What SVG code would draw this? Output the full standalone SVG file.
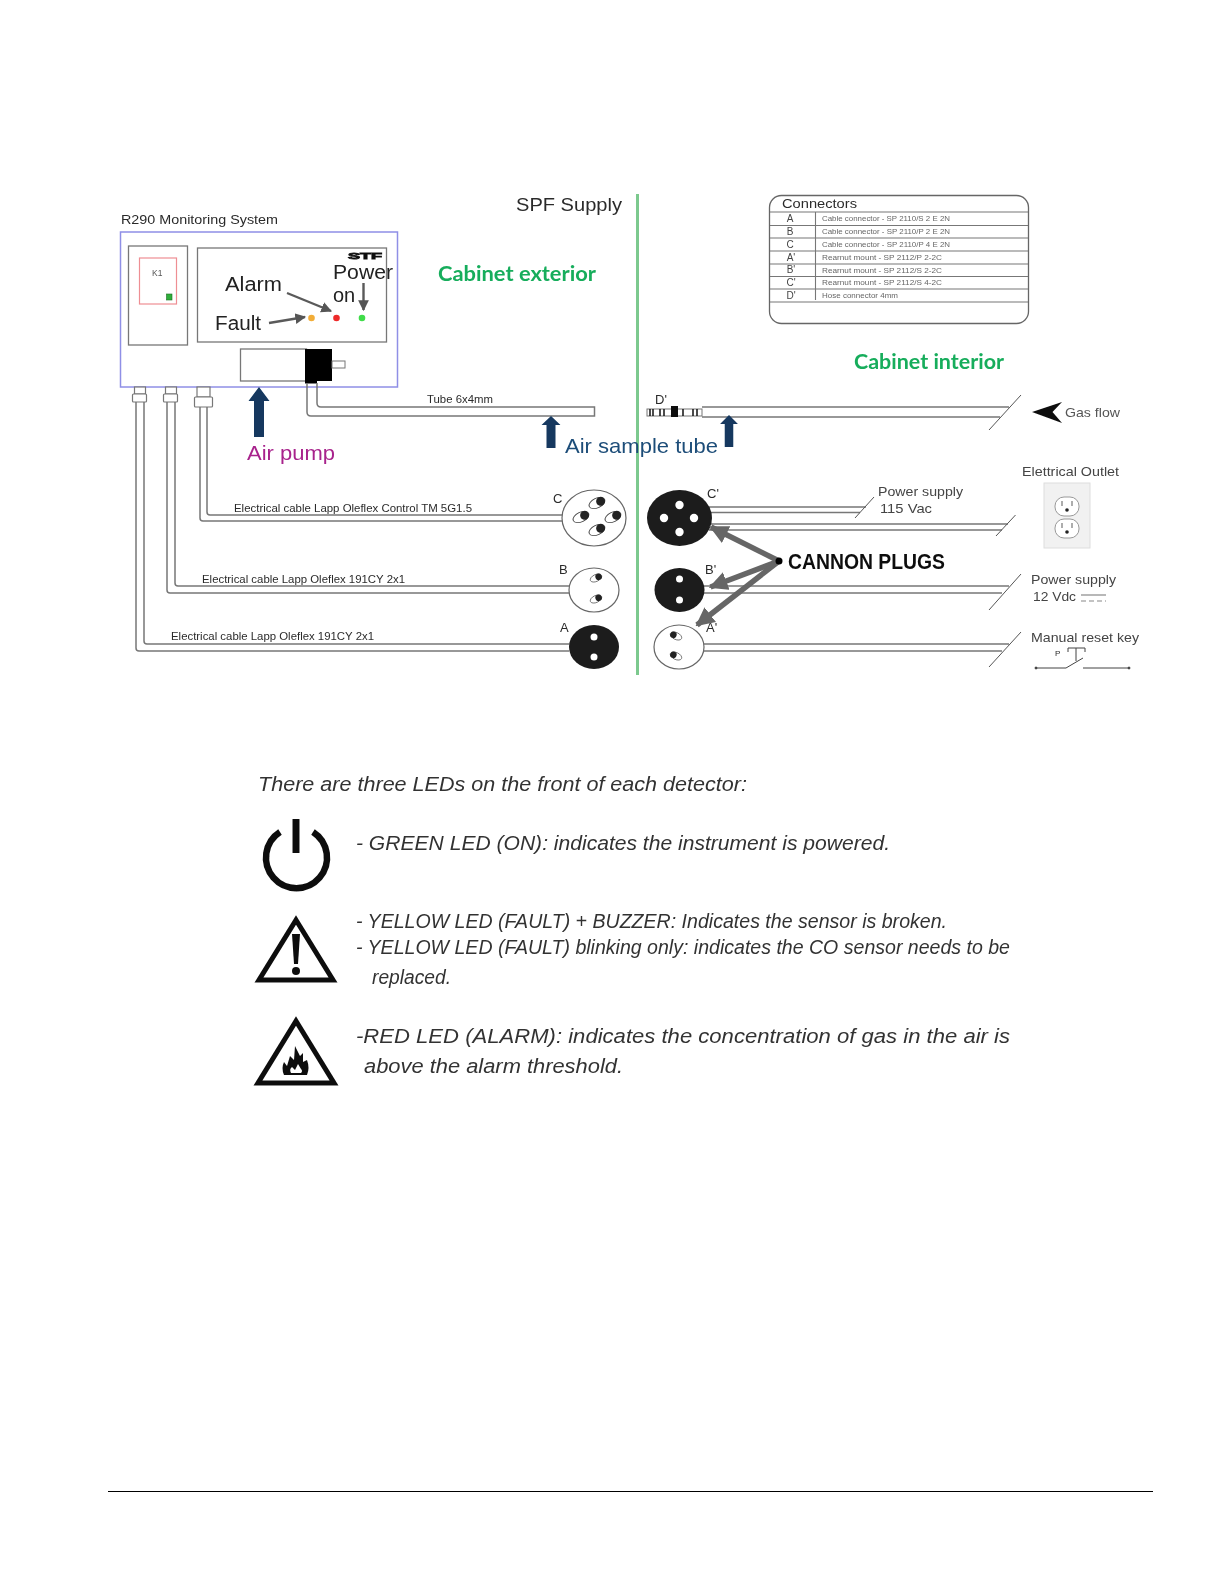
<svg xmlns="http://www.w3.org/2000/svg" width="1224" height="1584" viewBox="0 0 1224 1584">
<defs>
<filter id="soft" x="-5%" y="-5%" width="110%" height="110%"><feGaussianBlur stdDeviation="0.55"/></filter>
<filter id="soft2" x="-5%" y="-5%" width="110%" height="110%"><feGaussianBlur stdDeviation="0.35"/></filter>
<polygon id="upArrow" points="-5,0 -5,-36 -10.5,-36 0,-50 10.5,-36 5,-36 5,0" fill="#12375f"/>
<marker id="grayHead" viewBox="0 0 10 10" refX="9" refY="5" markerWidth="3.400" markerHeight="3.600" markerUnits="strokeWidth" orient="auto"><path d="M0,0 L10,5 L0,10 Z" fill="#666"/></marker>
<marker id="thinHead" viewBox="0 0 10 10" refX="9" refY="5" markerWidth="4.500" markerHeight="4.500" markerUnits="strokeWidth" orient="auto"><path d="M0,0 L10,5 L0,10 Z" fill="#555"/></marker>
<g id="pin"><ellipse cx="0" cy="0" rx="8.500" ry="4.800" fill="#fff" stroke="#444" stroke-width="0.900"/><circle cx="4" cy="0" r="4.500" fill="#222"/></g>
</defs>
<style>
text{font-family:"Liberation Sans",Arial,sans-serif;fill:#2b2b2b}
.frame{fill:none;stroke:#777;stroke-width:1.300}
.cable{fill:none;stroke:#777;stroke-width:1.500}
.slash{fill:none;stroke:#555;stroke-width:1}
.s11{font-size:11px}.s13{font-size:13px}
.lbl{font-size:13px;fill:#444}
.title{font-size:21px;font-weight:bold;fill:#17ad5b;font-family:"Lato","Liberation Sans",sans-serif}
.panel{font-size:20px;fill:#222}
.row{font-size:6.600px;fill:#666}
.cell{font-size:10px;fill:#444;text-anchor:middle}
.note{font-size:20px;font-style:italic;fill:#333}
.hole{fill:#fff}
.plug{fill:#1b1b1b}
.tline{stroke:#777;stroke-width:1.100}
</style>
<rect width="1224" height="1584" fill="#fff"/>
<g filter="url(#soft)">
<g id="divider"><line x1="637.500" y1="194" x2="637.500" y2="675" stroke="#7cc98e" stroke-width="3"/></g>
<text id="spf-supply" x="516" y="211" font-size="19" textLength="106" lengthAdjust="spacingAndGlyphs">SPF Supply</text>
<text x="438" y="281" class="title" textLength="158" lengthAdjust="spacingAndGlyphs">Cabinet exterior</text>
<text x="854" y="369" class="title" textLength="150" lengthAdjust="spacingAndGlyphs">Cabinet interior</text>
<text x="121" y="224" font-size="13.500" textLength="157" lengthAdjust="spacingAndGlyphs">R290 Monitoring System</text>

<g id="monitor">
<rect x="120.500" y="232" width="277" height="155" fill="#fff" stroke="#8f8fe6" stroke-width="1.500"/>
<rect x="128.500" y="246" width="59" height="99" class="frame"/>
<rect x="139.500" y="258" width="37" height="46" fill="#fff" stroke="#ee8e93" stroke-width="1.200"/>
<rect x="166.500" y="294" width="5.500" height="6" fill="#2fae3a" stroke="#1b6e23" stroke-width=".6"/>
<text x="152" y="276" font-size="8.500" style="fill:#555">K1</text>
<rect x="197.500" y="248" width="189" height="94" class="frame"/>
<text x="348" y="259" font-size="9" font-weight="bold" textLength="34" lengthAdjust="spacingAndGlyphs" style="fill:#111" stroke="#111" stroke-width=".8">STF</text>
<text x="333" y="279" class="panel" textLength="60" lengthAdjust="spacingAndGlyphs">Power</text>
<text x="333" y="302" class="panel">on</text>
<text x="225" y="291" class="panel" textLength="57" lengthAdjust="spacingAndGlyphs">Alarm</text>
<text x="215" y="330" class="panel" textLength="46" lengthAdjust="spacingAndGlyphs">Fault</text>
<line x1="287" y1="293" x2="331" y2="311" stroke="#5a5a5a" stroke-width="2.400" marker-end="url(#thinHead)"/>
<line x1="269" y1="323" x2="305" y2="317" stroke="#5a5a5a" stroke-width="2.400" marker-end="url(#thinHead)"/>
<line x1="363.500" y1="283" x2="363.500" y2="310" stroke="#5a5a5a" stroke-width="2.400" marker-end="url(#thinHead)"/>
<circle cx="311.500" cy="318" r="3.300" fill="#f2ad37"/>
<circle cx="336.500" cy="318" r="3.300" fill="#ee2a2a"/>
<circle cx="362" cy="318" r="3.300" fill="#3fdc4a"/>
<rect x="240.500" y="349" width="66" height="32" class="frame" style="fill:#fff"/>
<rect x="305" y="349" width="27" height="32" fill="#000"/>
<rect x="305" y="380" width="12" height="3.500" fill="#000"/>
<rect x="332" y="361" width="13" height="7" fill="#fff" stroke="#777"/>
</g>

<g id="connectors">
<path class="cable" d="M307,383 V412 Q307,416 311,416 H594.500 V407 H321 Q317,407 317,403 V383"/>
<path class="cable" d="M136,402 V648 Q136,651 139,651 H569"/>
<path class="cable" d="M144,402 V641 Q144,644 147,644 H569"/>
<path class="cable" d="M167,402 V590 Q167,593 170,593 H569"/>
<path class="cable" d="M175,402 V583 Q175,586 178,586 H569"/>
<path class="cable" d="M200,407 V518 Q200,521 203,521 H562"/>
<path class="cable" d="M207,407 V512 Q207,515 210,515 H562"/>
<path class="cable" d="M702,407 H1009 M702,417 H1000"/>
<path class="cable" d="M709,507 H866 M709,512.500 H860"/>
<path class="cable" d="M709,524 H1008 M709,530 H1002"/>
<path class="cable" d="M704,586 H1009 M704,593 H1002"/>
<path class="cable" d="M703,644 H1009 M703,651 H1002"/>
<path class="slash" d="M855,518 L874,497 M996,536 L1015.500,515 M989,430 L1021,395 M989,610 L1021,574 M989,667 L1021,632"/>
</g>

<g id="glands" fill="#fff" stroke="#777" stroke-width="1.200">
<rect x="134.500" y="387" width="11" height="7"/><rect x="132.500" y="394" width="14" height="8" rx="1"/>
<rect x="165.500" y="387" width="11" height="7"/><rect x="163.500" y="394" width="14" height="8" rx="1"/>
<rect x="197" y="387" width="13" height="10"/><rect x="194.500" y="397" width="18" height="10" rx="1"/>
</g>

<g id="arrows-blue">
<use href="#upArrow" transform="translate(259 437)"/>
<use href="#upArrow" transform="translate(551 448) scale(.9 .64)"/>
<use href="#upArrow" transform="translate(729 447) scale(.85 .64)"/>
</g>
<text x="247" y="460" font-size="21" style="fill:#a8238c" textLength="88" lengthAdjust="spacingAndGlyphs">Air pump</text>
<text x="565" y="453" font-size="21" style="fill:#1f4e79" textLength="153" lengthAdjust="spacingAndGlyphs">Air sample tube</text>
<text x="427" y="403" class="s11" textLength="66" lengthAdjust="spacingAndGlyphs">Tube 6x4mm</text>
<text x="234" y="512" class="s11" textLength="238" lengthAdjust="spacingAndGlyphs">Electrical cable Lapp Oleflex Control TM 5G1.5</text>
<text x="202" y="583" class="s11" textLength="203" lengthAdjust="spacingAndGlyphs">Electrical cable Lapp Oleflex 191CY 2x1</text>
<text x="171" y="640" class="s11" textLength="203" lengthAdjust="spacingAndGlyphs">Electrical cable Lapp Oleflex 191CY 2x1</text>

<g id="plug-c">
<ellipse cx="594" cy="518" rx="32" ry="28" fill="#fff" stroke="#666" stroke-width="1.200"/>
<use href="#pin" transform="translate(597 503) rotate(-25)"/>
<use href="#pin" transform="translate(581 517) rotate(-25)"/>
<use href="#pin" transform="translate(613 517) rotate(-25)"/>
<use href="#pin" transform="translate(597 530) rotate(-25)"/>
<text x="553" y="503" class="s13">C</text>
</g>
<g id="plug-b">
<ellipse cx="594" cy="590" rx="25" ry="22" fill="#fff" stroke="#666" stroke-width="1.200"/>
<use href="#pin" transform="translate(596 578) rotate(-25) scale(.72)"/>
<use href="#pin" transform="translate(596 599) rotate(-25) scale(.72)"/>
<text x="559" y="574" class="s13">B</text>
</g>
<g id="plug-a">
<ellipse cx="594" cy="647" rx="25" ry="22" class="plug"/>
<circle cx="594" cy="637" r="3.500" class="hole"/>
<circle cx="594" cy="657" r="3.500" class="hole"/>
<text x="560" y="632" class="s13">A</text>
</g>
<g id="plug-c-prime">
<ellipse cx="679.500" cy="518" rx="32.500" ry="28" class="plug"/>
<circle cx="679.500" cy="505" r="4.200" class="hole"/><circle cx="664" cy="518" r="4.200" class="hole"/><circle cx="694" cy="518" r="4.200" class="hole"/><circle cx="679.500" cy="532" r="4.200" class="hole"/>
<text x="707" y="498" class="s13">C'</text>
</g>
<g id="plug-b-prime">
<ellipse cx="679.500" cy="590" rx="25" ry="22" class="plug"/>
<circle cx="679.500" cy="579" r="3.500" class="hole"/><circle cx="679.500" cy="600" r="3.500" class="hole"/>
<text x="705" y="574" class="s13">B'</text>
</g>
<g id="plug-a-prime">
<ellipse cx="679" cy="647" rx="25" ry="22" fill="#fff" stroke="#666" stroke-width="1.200"/>
<use href="#pin" transform="translate(676 636) rotate(205) scale(.72)"/>
<use href="#pin" transform="translate(676 656) rotate(205) scale(.72)"/>
<text x="706" y="632" class="s13">A'</text>
</g>

<g id="tube-fitting">
<rect x="647" y="409" width="55" height="7" fill="#fff" stroke="#777"/>
<path d="M650,409 V416 M653,409 V416 M660,409 V416 M664,409 V416 M683,409 V416 M693,409 V416 M697,409 V416" stroke="#111" stroke-width="1.500"/>
<rect x="671" y="406" width="7" height="11" fill="#111"/>
<text x="655" y="404" class="s13">D'</text>
</g>
<path id="gas-arrow" d="M1032,412 L1062,402 L1052.500,412 L1062,423 Z" fill="#111"/>
<text x="1065" y="417" class="lbl" style="fill:#555" textLength="55" lengthAdjust="spacingAndGlyphs">Gas flow</text>

<g id="cannon">
<path d="M779,561 L711,527" stroke="#666" stroke-width="5.500" fill="none" marker-end="url(#grayHead)"/>
<path d="M779,561 L710.500,587" stroke="#666" stroke-width="5.500" fill="none" marker-end="url(#grayHead)"/>
<path d="M779,561 L697,625" stroke="#666" stroke-width="5.500" fill="none" marker-end="url(#grayHead)"/>
<circle cx="779" cy="561" r="3.500" fill="#000"/>
<text x="788" y="569" font-size="21.500" font-weight="bold" style="fill:#111" textLength="157" lengthAdjust="spacingAndGlyphs">CANNON PLUGS</text>
</g>

<text x="878" y="496" class="lbl" textLength="85" lengthAdjust="spacingAndGlyphs">Power supply</text>
<text x="880" y="513" class="lbl" textLength="52" lengthAdjust="spacingAndGlyphs">115 Vac</text>
<text x="1022" y="476" class="lbl" textLength="97" lengthAdjust="spacingAndGlyphs">Elettrical Outlet</text>
<g id="outlet">
<rect x="1044" y="483" width="46" height="65" fill="#f1f1f1" stroke="#ddd"/>
<rect x="1055" y="497" width="24" height="19" rx="9" fill="#fff" stroke="#999"/>
<rect x="1055" y="519" width="24" height="19" rx="9" fill="#fff" stroke="#999"/>
<path d="M1062,501 v5 M1072,501 v5 M1062,523 v5 M1072,523 v5" stroke="#777" stroke-width="1.200"/>
<circle cx="1067" cy="510" r="1.800" fill="#222"/><circle cx="1067" cy="532" r="1.800" fill="#222"/>
</g>
<text x="1031" y="584" class="lbl" textLength="85" lengthAdjust="spacingAndGlyphs">Power supply</text>
<text x="1033" y="601" class="lbl" textLength="43" lengthAdjust="spacingAndGlyphs">12 Vdc</text>
<path d="M1081,595 H1106" stroke="#888" stroke-width="1.200"/>
<path d="M1081,601 H1106" stroke="#888" stroke-width="1.200" stroke-dasharray="5 3"/>
<text x="1031" y="642" class="lbl" textLength="108" lengthAdjust="spacingAndGlyphs">Manual reset key</text>
<g id="reset-symbol" fill="none" stroke="#444" stroke-width="1">
<text x="1055" y="656" font-size="8" stroke="none">P</text>
<path d="M1068,652 V648 H1085 V652 M1076,648 V661"/>
<path d="M1036,668 H1066 L1083,658 M1083,668 H1129"/>
<circle cx="1036" cy="668" r="1" fill="#222"/><circle cx="1129" cy="668" r="1" fill="#222"/>
</g>

<g id="connector-table">
<rect x="769.500" y="195.500" width="259" height="128" rx="12" fill="#fff" stroke="#666" stroke-width="1.300"/>
<text x="782" y="208" font-size="13.500" textLength="75" lengthAdjust="spacingAndGlyphs">Connectors</text>
<path class="tline" d="M770,212 H1028 M770,225.500 H1028 M770,238 H1028 M770,251 H1028 M770,264 H1028 M770,276.500 H1028 M770,289 H1028 M770,302 H1028 M815.500,212 V300"/>
<text x="790" y="222" class="cell">A</text><text x="822" y="221" class="row" textLength="128" lengthAdjust="spacingAndGlyphs">Cable connector - SP 2110/S 2 E 2N</text>
<text x="790" y="235" class="cell">B</text><text x="822" y="234" class="row" textLength="128" lengthAdjust="spacingAndGlyphs">Cable connector - SP 2110/P 2 E 2N</text>
<text x="790" y="247.500" class="cell">C</text><text x="822" y="247" class="row" textLength="128" lengthAdjust="spacingAndGlyphs">Cable connector - SP 2110/P 4 E 2N</text>
<text x="791" y="260.500" class="cell">A'</text><text x="822" y="259.500" class="row" textLength="120" lengthAdjust="spacingAndGlyphs">Rearnut mount - SP 2112/P 2-2C</text>
<text x="791" y="273" class="cell">B'</text><text x="822" y="272.500" class="row" textLength="120" lengthAdjust="spacingAndGlyphs">Rearnut mount - SP 2112/S 2-2C</text>
<text x="791" y="286" class="cell">C'</text><text x="822" y="285" class="row" textLength="120" lengthAdjust="spacingAndGlyphs">Rearnut mount - SP 2112/S 4-2C</text>
<text x="791" y="298.500" class="cell">D'</text><text x="822" y="297.500" class="row" textLength="76" lengthAdjust="spacingAndGlyphs">Hose connector 4mm</text>
</g>
</g>

<g filter="url(#soft2)">
<text x="258" y="791" class="note" textLength="489" lengthAdjust="spacingAndGlyphs">There are three LEDs on the front of each detector:</text>
<g id="icon-power" fill="none" stroke="#111">
<path d="M280,832 A30.500,30.500 0 1 0 313,832" stroke-width="6.500"/>
<line x1="296" y1="819" x2="296" y2="853" stroke-width="7"/>
</g>
<text x="356" y="850" class="note" textLength="534" lengthAdjust="spacingAndGlyphs">- GREEN LED (ON): indicates the instrument is powered.</text>
<g id="icon-warning">
<path d="M296,920 L333,980 H259 Z" fill="#fff" stroke="#111" stroke-width="5"/>
<path d="M292,934 H300 L298,964 H294 Z" fill="#111"/>
<circle cx="296" cy="971" r="4" fill="#111"/>
</g>
<text x="356" y="928" class="note" textLength="591" lengthAdjust="spacingAndGlyphs">- YELLOW LED (FAULT) + BUZZER: Indicates the sensor is broken.</text>
<text x="356" y="954" class="note" textLength="654" lengthAdjust="spacingAndGlyphs">- YELLOW LED (FAULT) blinking only: indicates the CO sensor needs to be</text>
<text x="372" y="984" class="note" textLength="79" lengthAdjust="spacingAndGlyphs">replaced.</text>
<g id="icon-flame">
<path d="M296,1021 L334,1083 H258 Z" fill="#fff" stroke="#111" stroke-width="5"/>
<path d="M284,1075 Q281,1068 284,1062 L287,1066 L290,1056 L294,1060 L295,1046 L300,1056 L303,1053 L303,1062 L307,1060 Q310,1068 307,1075 Z" fill="#111"/>
<path d="M291,1073 Q289,1069 292,1067 L295,1070 L298,1064 L301,1069 Q303,1071 301,1073 Z" fill="#fff"/>
</g>
<text x="356" y="1043" class="note" textLength="654" lengthAdjust="spacingAndGlyphs">-RED LED (ALARM): indicates the concentration of gas in the air is</text>
<text x="364" y="1073" class="note" textLength="259" lengthAdjust="spacingAndGlyphs">above the alarm threshold.</text>
</g>
<line x1="108" y1="1491.500" x2="1153" y2="1491.500" stroke="#000" stroke-width="1"/>
</svg>
